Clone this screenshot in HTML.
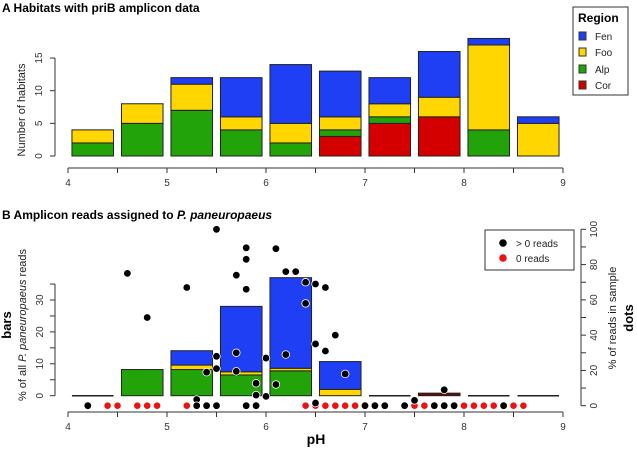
<!DOCTYPE html>
<html><head><meta charset="utf-8"><style>
html,body{margin:0;padding:0;background:#fff;}
svg{display:block;font-family:"Liberation Sans",Arial,sans-serif;}
</style></head><body>
<svg id="chart" width="637" height="449" viewBox="0 0 637 449" xmlns="http://www.w3.org/2000/svg">
<g id="gA"></g>
<g id="gB"></g>
</svg>
<script>
// ---- Panel A data ----
const binStarts = [4,4.5,5,5.5,6,6.5,7,7.5,8,8.5];
const habCor = [0,0,0,0,0,3,5,6,0,0];
const habAlp = [2,5,7,4,2,1,1,0,4,0];
const habFoo = [2,3,4,2,3,2,2,3,13,5];
const habFen = [0,0,1,6,9,7,4,7,1,1];
const habTicks = [0,5,10,15];
// ---- Panel B data ----
const readCor = [0,0,0,0,0,0,0,0.8,0,0];
const readAlp = [0,8.2,8.2,6.5,7.8,0,0,0,0,0];
const readFoo = [0,0,1.4,1.0,0.8,2.0,0,0,0,0];
const readFen = [0,0,4.5,20.5,28.4,8.7,0,0,0,0];
const readTicks = [0,10,20,30];
const dotTicks = [0,20,40,60,80,100];
const posPH = [4.2,4.6,4.8,5.2,5.3,5.3,5.4,5.4,5.5,5.5,5.5,5.5,5.7,5.8,5.8,5.8,5.7,5.7,5.8,5.9,5.9,5.9,6.0,6.0,6.1,6.1,6.2,6.2,6.3,6.4,6.4,6.5,6.5,6.5,6.6,6.6,6.7,6.8,7.0,7.1,7.2,7.4,7.5,7.7,7.8,7.8,7.9,8.4];
const posPct = [0,75,50,67,3.5,0,19,0,100,28,21,0,74,89.5,83,66,30,19.5,0,12.7,6,0,27,5.3,12,89,29,76,76,70,58,69,35,1.5,67,31,40,18,0,0,0,0,3,0,0,9,0,0];
const zeroPH = [4.4,4.5,4.7,4.8,4.9,5.2,6.4,6.5,6.6,6.7,6.8,6.9,7.5,7.6,8.0,8.1,8.2,8.3,8.5,8.6];

const NS="http://www.w3.org/2000/svg";
const COL={Fen:"#1f3ff5",Foo:"#ffd600",Alp:"#22a30a",Cor:"#d40000"};
function mk(parent,tag,attrs,text){const e=document.createElementNS(NS,tag);for(const k in attrs)e.setAttribute(k,attrs[k]);if(text!==undefined)e.textContent=text;parent.appendChild(e);return e;}
const xS = ph => 68 + (ph-4)*99;
const BW = 0.42;

// ===== Panel A =====
const gA=document.getElementById('gA');
const yA = v => 156 - v*6.53;
let t=mk(gA,'text',{x:2,y:12,'font-size':12,'font-weight':'bold'},'A Habitats with priB amplicon data');


binStarts.forEach((b,i)=>{
  let base=0;
  [['Cor',habCor],['Alp',habAlp],['Foo',habFoo],['Fen',habFen]].forEach(([n,arr])=>{
    const v=arr[i]; if(!v) return;
    const r=mk(gA,'rect',{x:xS(b+0.04),y:yA(base+v),width:BW*99,height:v*6.53,fill:COL[n],stroke:'#222','stroke-width':1});
    
    
    base+=v;
  });
});
// y axis A
mk(gA,'line',{x1:55,x2:55,y1:yA(0),y2:yA(15),stroke:'#333'});
habTicks.forEach(v=>{
  mk(gA,'line',{x1:50,x2:55,y1:yA(v),y2:yA(v),stroke:'#333'});
  const l=mk(gA,'text',{x:42,y:yA(v),'font-size':10,fill:'#333','text-anchor':'middle',transform:`rotate(-90 42 ${yA(v)})`},String(v));
  
  
});
t=mk(gA,'text',{x:25,y:110,'font-size':11,fill:'#222','text-anchor':'middle',transform:'rotate(-90 25 110)'},'Number of habitats');


// x axis A
mk(gA,'line',{x1:xS(4),x2:xS(9),y1:168,y2:168,stroke:'#333'});
for(let p=4;p<=9;p+=0.5){mk(gA,'line',{x1:xS(p),x2:xS(p),y1:168,y2:173,stroke:'#333'});}
for(let p=4;p<=9;p++){const l=mk(gA,'text',{x:xS(p),y:186,'font-size':10,fill:'#333','text-anchor':'middle'},String(p));}
// legend A
const lg=mk(gA,'g',{});


mk(lg,'rect',{x:573,y:7,width:55,height:88,fill:'#fff',stroke:'#333'});
mk(lg,'text',{x:578,y:22,'font-size':12,'font-weight':'bold'},'Region');
[['Fen',36],['Foo',52],['Alp',69],['Cor',85]].forEach(([n,y])=>{
  const e=mk(lg,'g',{});
  
  
  mk(e,'rect',{x:579,y:y-4,width:7,height:8,fill:COL[n],stroke:'#333'});
  mk(e,'text',{x:595,y:y+4,'font-size':10,fill:'#222'},n);
});

// ===== Panel B =====
const gB=document.getElementById('gB');
const yB = v => 395.7 - v*3.19;
const yD = v => 405.7 - v*1.764;
t=mk(gB,'text',{x:2,y:219,'font-size':12,'font-weight':'bold'});


t.innerHTML='B Amplicon reads assigned to <tspan font-style="italic">P. paneuropaeus</tspan>';
binStarts.forEach((b,i)=>{
  let base=0;
  const parts=[['Cor',readCor],['Alp',readAlp],['Foo',readFoo],['Fen',readFen]];
  const tot=parts.reduce((s,p)=>s+p[1][i],0);
  if(tot===0){
    const ln=mk(gB,'line',{x1:xS(b+0.04),x2:xS(b+0.04+BW),y1:yB(0),y2:yB(0),stroke:'#222','stroke-width':1.5});
    
    
    return;
  }
  parts.forEach(([n,arr])=>{
    const v=arr[i]; if(!v) return;
    const r=mk(gB,'rect',{x:xS(b+0.04),y:yB(base+v),width:BW*99,height:v*3.19,fill:n==='Cor'?'#6b0a0a':COL[n],stroke:'#222','stroke-width':1});
    
    
    base+=v;
  });
});
// left axis B
mk(gB,'line',{x1:55,x2:55,y1:yB(0),y2:yB(35),stroke:'#333'});
for(let v=0;v<=35;v+=5){mk(gB,'line',{x1:50,x2:55,y1:yB(v),y2:yB(v),stroke:'#333'});}
readTicks.forEach(v=>{
  const l=mk(gB,'text',{x:43,y:yB(v),'font-size':10,fill:'#333','text-anchor':'middle',transform:`rotate(-90 43 ${yB(v)})`},String(v));
  
  
});
t=mk(gB,'text',{x:11,y:325,'font-size':13,'font-weight':'bold','text-anchor':'middle',transform:'rotate(-90 11 325)'},'bars');


t=mk(gB,'text',{x:26,y:325,'font-size':11,fill:'#222','text-anchor':'middle',transform:'rotate(-90 26 325)'});


t.innerHTML='% of all <tspan font-style="italic">P. paneuropaeus</tspan> reads';
// right axis B
mk(gB,'line',{x1:581,x2:581,y1:yD(0),y2:yD(100),stroke:'#333'});
for(let v=0;v<=100;v+=10){mk(gB,'line',{x1:581,x2:586,y1:yD(v),y2:yD(v),stroke:'#333'});}
dotTicks.forEach(v=>{
  const l=mk(gB,'text',{x:597,y:yD(v),'font-size':10,fill:'#333','text-anchor':'middle',transform:`rotate(-90 597 ${yD(v)})`},String(v));
  
  
});
t=mk(gB,'text',{x:616,y:318,'font-size':11,fill:'#222','text-anchor':'middle',transform:'rotate(-90 616 318)'},'% of reads in sample');


t=mk(gB,'text',{x:633,y:318,'font-size':13,'font-weight':'bold','text-anchor':'middle',transform:'rotate(-90 633 318)'},'dots');


// x axis B
mk(gB,'line',{x1:xS(4),x2:xS(9),y1:412,y2:412,stroke:'#333'});
for(let p=4;p<=9;p+=0.5){mk(gB,'line',{x1:xS(p),x2:xS(p),y1:412,y2:417,stroke:'#333'});}
for(let p=4;p<=9;p++){const l=mk(gB,'text',{x:xS(p),y:430,'font-size':10,fill:'#333','text-anchor':'middle'},String(p));}
t=mk(gB,'text',{x:316,y:444,'font-size':14,'font-weight':'bold','text-anchor':'middle'},'pH');


// dots
zeroPH.forEach(p=>{
  const c=mk(gB,'circle',{cx:xS(p),cy:yD(0),r:3.6,fill:'#ee1111',stroke:'#fff','stroke-width':0.6});
  
  
});
posPH.forEach((p,i)=>{
  const c=mk(gB,'circle',{cx:xS(p),cy:yD(posPct[i]),r:3.8,fill:'#000',stroke:'#fff','stroke-width':0.8});
  
  
});
// legend B
const lb=mk(gB,'g',{});


mk(lb,'rect',{x:485,y:230,width:89,height:40,fill:'#fff',stroke:'#333'});
let e=mk(lb,'g',{});


mk(e,'circle',{cx:503,cy:243,r:3.8,fill:'#000'});
mk(e,'text',{x:516,y:247,'font-size':10,fill:'#222'},'> 0 reads');
e=mk(lb,'g',{});


mk(e,'circle',{cx:503,cy:258,r:3.8,fill:'#ee1111'});
mk(e,'text',{x:516,y:262,'font-size':10,fill:'#222'},'0 reads');
</script>
</body></html>
